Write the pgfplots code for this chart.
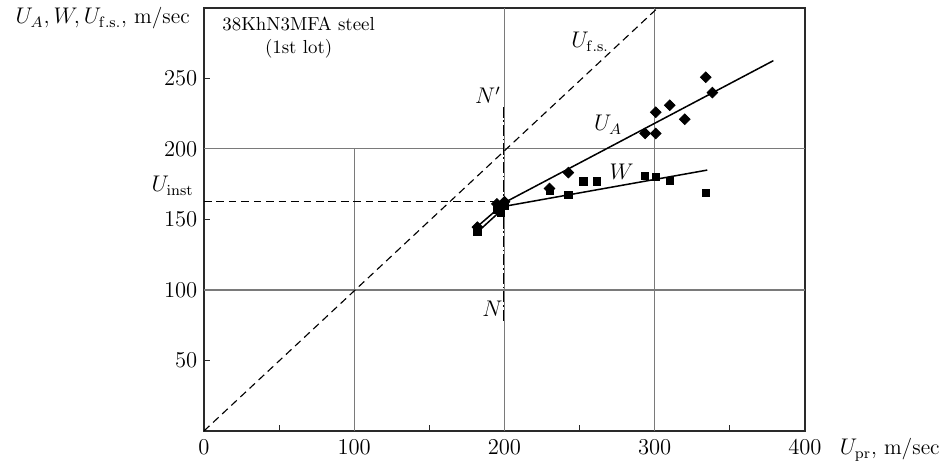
\documentclass[border=0pt]{standalone}
\usepackage{pgfplots}
\pgfplotsset{compat=1.18}
\definecolor{gridgray}{HTML}{7A7A7A}
\definecolor{axisdark}{HTML}{2A2A2A}
\begin{document}
\begin{tikzpicture}
\begin{axis}[
    scale only axis,
    width=318.5pt,
    height=224.2pt,
    xmin=0, xmax=400,
    ymin=0, ymax=300,
    axis line style={line width=0.8pt, draw=axisdark},
    xtick={0,100,200,300,400},
    ytick={50,100,150,200,250},
    minor xtick={50,150,250,350},
    tick align=inside,
    xtick pos=bottom,
    ytick pos=left,
    major tick length=3pt,
    minor tick length=3pt,
    tick style={line width=0.6pt, draw=axisdark},
    tick label style={font=\large},
    xticklabel style={yshift=-1pt},
    clip=false,
]
\coordinate (O) at (rel axis cs:0,0);
\coordinate (T) at (rel axis cs:1,1);

% partial grid lines
\addplot[gridgray, line width=0.6pt, forget plot] coordinates {(0,100) (400,100)};
\addplot[gridgray, line width=0.6pt, forget plot] coordinates {(0,200) (400,200)};
\addplot[gridgray, line width=0.6pt, forget plot] coordinates {(100,0) (100,200)};
\addplot[gridgray, line width=0.6pt, forget plot] coordinates {(200,0) (200,300)};
\addplot[gridgray, line width=0.6pt, forget plot] coordinates {(300,0) (300,300)};

% free-surface line and instability level
\addplot[black, line width=0.6pt, dash pattern=on 4pt off 2.6pt] coordinates {(0,0) (302,300)};
\addplot[black, line width=0.6pt, dash pattern=on 4pt off 2.6pt] coordinates {(0,163) (200,163)};
\addplot[black, line width=0.6pt, dash pattern=on 6pt off 1.5pt on 0.8pt off 1.5pt] coordinates {(199.3,78) (199.3,230)};

% fitted lines
\addplot[black, line width=0.8pt] coordinates {(182,145) (201,162.5) (379,262.6)};
\addplot[black, line width=0.8pt] coordinates {(182,141) (201,159.5) (335,185)};

% U_A points
\addplot[only marks, mark=square*, mark size=2.0pt, mark options={rotate=45, fill=black, draw=black}] coordinates {
(182,144.5) (195,161) (200,162.5) (230,172) (242.5,183.2) (293.6,211) (300.7,211)
(300.7,226) (310,231) (320,221) (334,250.8) (338.4,240)
};
% W points
\addplot[only marks, mark=square*, mark size=1.9pt, mark options={fill=black, draw=black}] coordinates {
(182,141) (195,157) (197.5,155) (200,160) (230,170) (242.6,167.4) (252.5,177) (261.3,177)
(293.6,181) (301,180) (310,177.5) (334,168.6)
};

\node[font=\large] at (axis cs:257,276) {$U_{\mathrm{f.s.}}$};
\node[font=\large] at (axis cs:189,238) {$N'$};
\node[font=\large] at (axis cs:192,87) {$N$};
\node[font=\large] at (axis cs:269,217) {$U_A$};
\node[font=\large] at (axis cs:278,184) {$W$};
\node[align=center, font=\normalsize] at (axis cs:63,279) {38KhN3MFA steel\\(1st lot)};
\node[anchor=east, font=\large] at ([xshift=-2pt]axis cs:0,174) {$U_{\mathrm{inst}}$};
\node[anchor=east, font=\fontsize{11.5}{13}\selectfont] at ([xshift=-4pt]rel axis cs:0,0.975) {$U_A, W, U_{\mathrm{f.s.}}$, m/sec};
\node[anchor=base west, font=\fontsize{11.5}{13}\selectfont] at ([xshift=15pt, yshift=-12.7pt]rel axis cs:1,0) {$U_{\mathrm{pr}}$, m/sec};
\end{axis}
\pgfresetboundingbox
\path ([xshift=-108.1pt, yshift=-19.6pt]O) rectangle ([xshift=75.3pt, yshift=4.2pt]T);
\end{tikzpicture}
\end{document}
